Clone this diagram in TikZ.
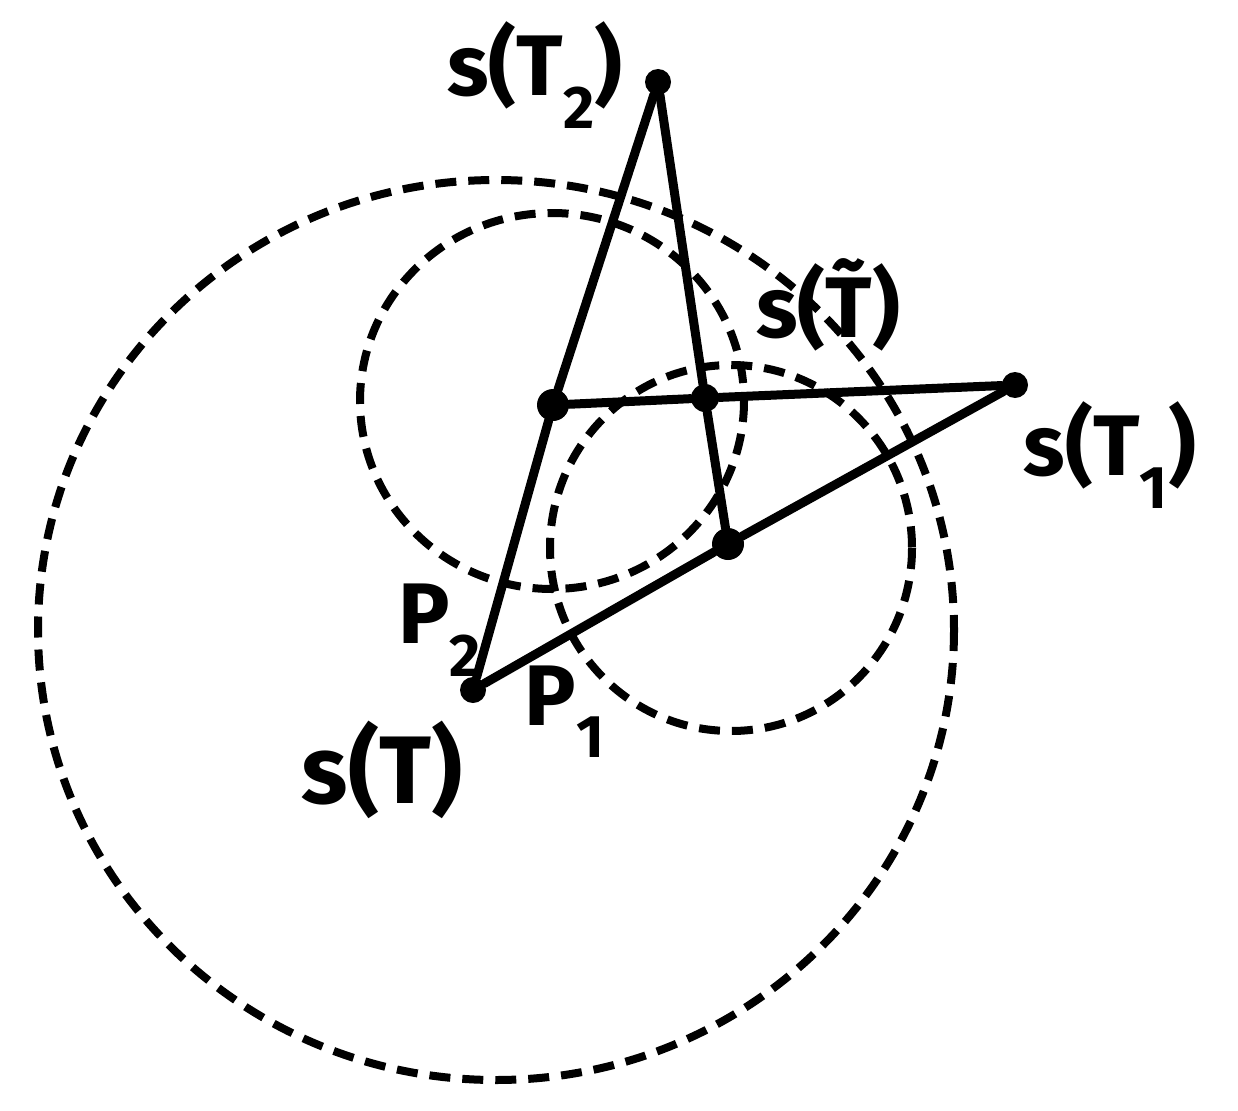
\documentclass[tikz,border=0pt]{standalone}
\usepackage{fontspec}
\setmainfont{Fira Sans}
\begin{document}
\begin{tikzpicture}[x=1pt,y=-1pt,
  seg/.style={line width=9pt, line cap=round},
  dashcirc/.style={line width=8pt, dash pattern=on 21pt off 12pt},
  dot/.style={circle, fill=black, inner sep=0pt, minimum size=#1},
  lab/.style={font=\fontsize{86}{96}\selectfont\bfseries, inner sep=0pt}]
\useasboundingbox (0,0) rectangle (1238,1110);
% dashed circles
\draw[dashcirc] (496,630) ellipse [x radius=458, y radius=450];
\draw[dashcirc] (552,401) ellipse [x radius=192, y radius=188];
\draw[dashcirc] (731,548) ellipse [x radius=181, y radius=183];
% points
\node[dot=26pt] (sT)  at (473,690) {};
\node[dot=26pt] (sT2) at (658,82) {};
\node[dot=26pt] (sT1) at (1015,385) {};
\node[dot=32pt] (p2)  at (553,405) {};
\node[dot=32pt] (p1)  at (728,544) {};
\node[dot=28pt] (sTt) at (705,398) {};
% segments
\draw[seg] (sT) -- (p2) -- (sT2);
\draw[seg] (sT) -- (p1) -- (sT1);
\draw[seg] (p2) -- (sTt) -- (sT1);
\draw[seg] (p1) -- (sTt) -- (sT2);
% labels
\node[lab] (LsT2) at (535,75) {s(T\textsubscript{2})};
\node[lab] (LsTt) at (828,305) {s(\~{T})};
\node[lab] (LsT1) at (1110,455) {s(T\textsubscript{1})};
\node[lab] (Lp2)  at (440,630) {P\textsubscript{2}};
\node[lab] (Lp1)  at (565,712) {P\textsubscript{1}};
\node[lab,font=\fontsize{96}{106}\selectfont\bfseries] (LsT)  at (382,770) {s(T)};
\end{tikzpicture}
\end{document}
